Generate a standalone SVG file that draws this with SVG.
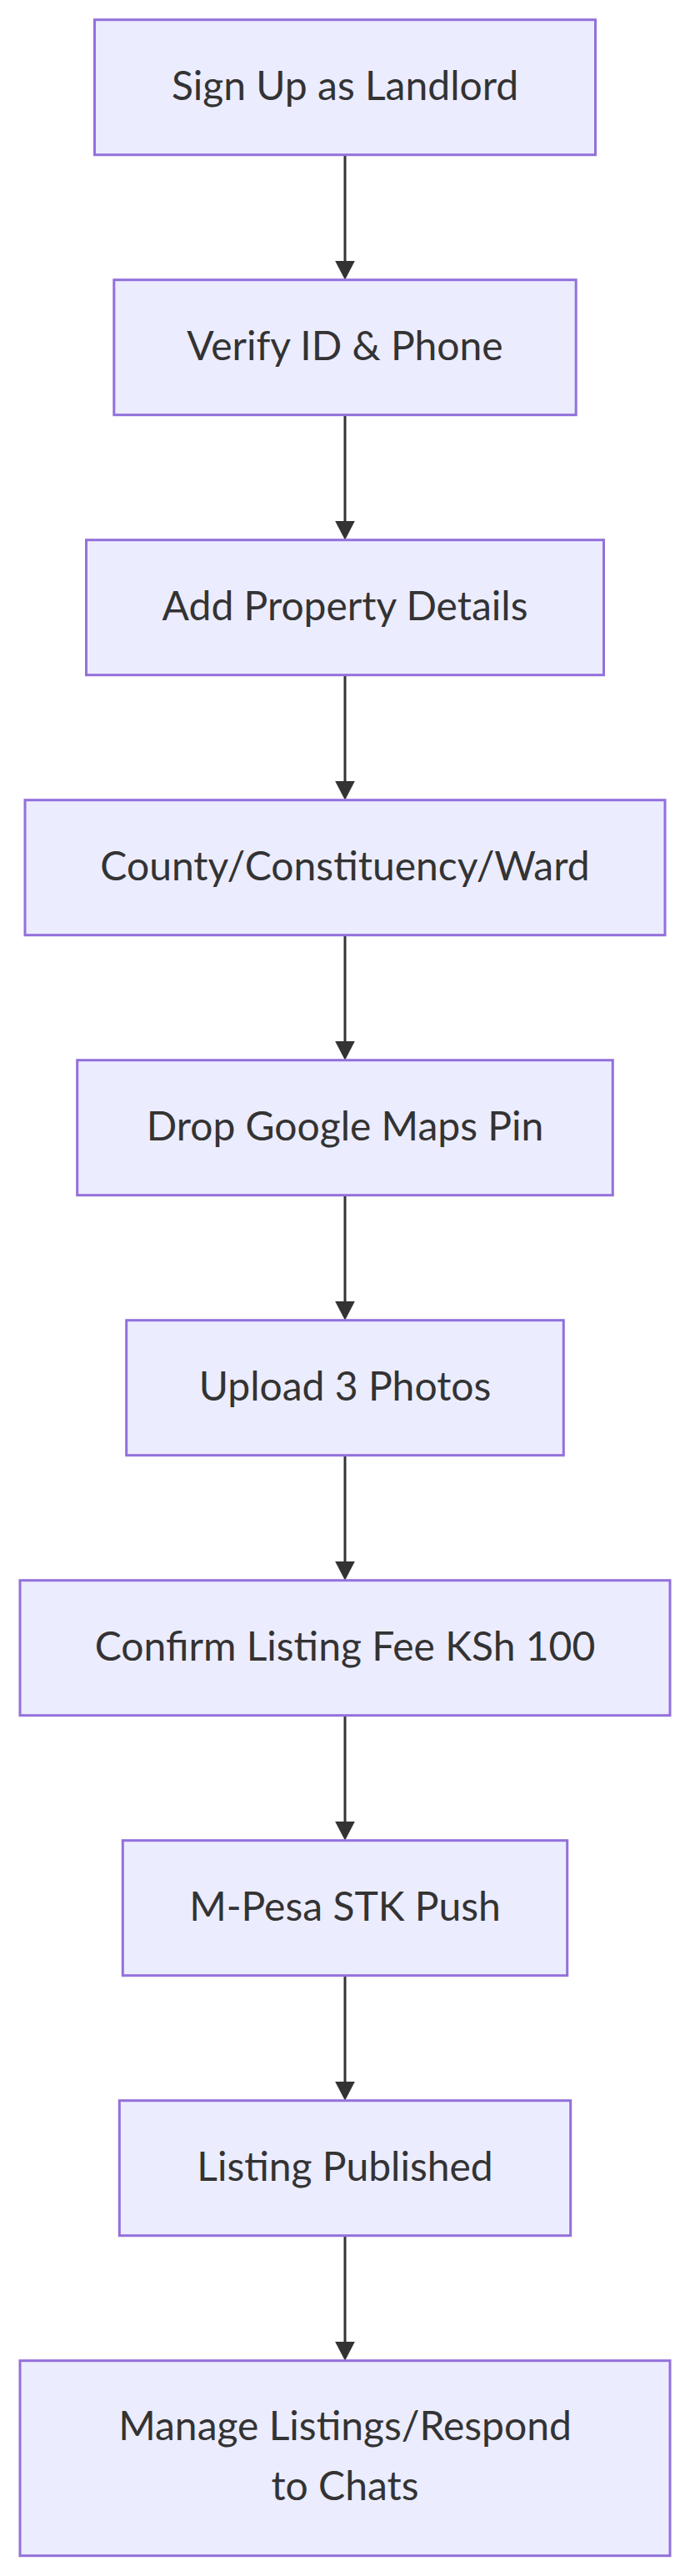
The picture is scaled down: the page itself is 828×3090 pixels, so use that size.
<svg xmlns="http://www.w3.org/2000/svg" width="828" height="3090" viewBox="0 0 828 3090">
<style>
.node rect{fill:#ECECFF;stroke:#9370DB;stroke-width:3}
.node text{font-family:Lato,"Liberation Sans",sans-serif;font-size:48px;fill:#333333;text-anchor:middle}
.edge{stroke:#333333;stroke-width:3;fill:none}
</style>
<defs>
<marker id="arrow" markerUnits="userSpaceOnUse" viewBox="0 0 23 24" refX="15" refY="12" markerWidth="23" markerHeight="24" orient="auto">
<path d="M0,0 L23,12 L0,24 z" fill="#333333"/>
</marker>
</defs>
<rect width="828" height="3090" fill="#ffffff"/>
<g id="connectors">
<line class="edge" x1="414" y1="185.7" x2="414" y2="327.7" marker-end="url(#arrow)"/>
<line class="edge" x1="414" y1="497.7" x2="414" y2="639.7" marker-end="url(#arrow)"/>
<line class="edge" x1="414" y1="809.7" x2="414" y2="951.7" marker-end="url(#arrow)"/>
<line class="edge" x1="414" y1="1121.7" x2="414" y2="1263.7" marker-end="url(#arrow)"/>
<line class="edge" x1="414" y1="1433.7" x2="414" y2="1575.7" marker-end="url(#arrow)"/>
<line class="edge" x1="414" y1="1745.7" x2="414" y2="1887.7" marker-end="url(#arrow)"/>
<line class="edge" x1="414" y1="2057.7" x2="414" y2="2199.7" marker-end="url(#arrow)"/>
<line class="edge" x1="414" y1="2369.7" x2="414" y2="2511.7" marker-end="url(#arrow)"/>
<line class="edge" x1="414" y1="2681.7" x2="414" y2="2823.7" marker-end="url(#arrow)"/>
</g>
<g id="n1" class="node"><rect x="113.5" y="23.7" width="601" height="162"/><text x="414" y="119.7">Sign Up as Landlord</text></g>
<g id="n2" class="node"><rect x="136.8" y="335.7" width="554.4" height="162"/><text x="414" y="431.7">Verify ID &amp; Phone</text></g>
<g id="n3" class="node"><rect x="103.5" y="647.7" width="621" height="162"/><text x="414" y="743.7">Add Property Details</text></g>
<g id="n4" class="node"><rect x="30" y="959.7" width="768" height="162"/><text x="414" y="1055.7">County/Constituency/Ward</text></g>
<g id="n5" class="node"><rect x="92.7" y="1271.7" width="642.6" height="162"/><text x="414" y="1367.7">Drop Google Maps Pin</text></g>
<g id="n6" class="node"><rect x="151.7" y="1583.7" width="524.6" height="162"/><text x="414" y="1679.7">Upload 3 Photos</text></g>
<g id="n7" class="node"><rect x="24" y="1895.7" width="780" height="162"/><text x="414" y="1991.7">Confirm Listing Fee KSh 100</text></g>
<g id="n8" class="node"><rect x="147.3" y="2207.7" width="533.4" height="162"/><text x="414" y="2303.7">M-Pesa STK Push</text></g>
<g id="n9" class="node"><rect x="143.3" y="2519.7" width="541.4" height="162"/><text x="414" y="2615.7">Listing Published</text></g>
<g id="n10" class="node"><rect x="24" y="2831.7" width="780" height="234"/><text x="414" y="2927.4">Manage Listings/Respond</text><text x="414" y="2999.4">to Chats</text></g>
</svg>
